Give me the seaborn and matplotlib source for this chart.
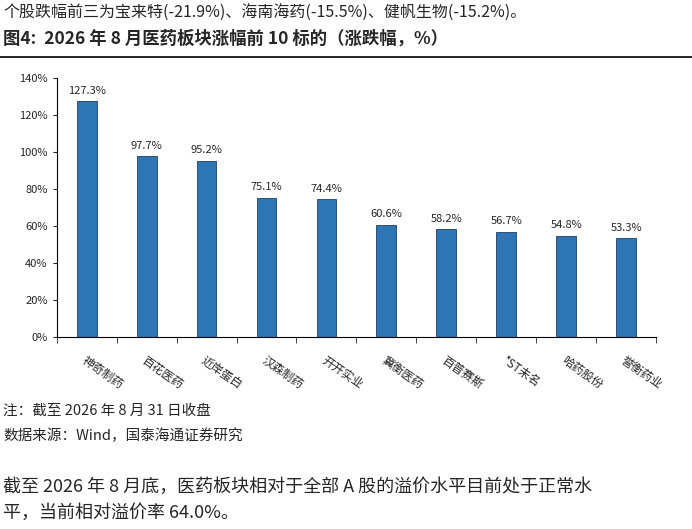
import matplotlib
matplotlib.use("Agg")
import matplotlib.pyplot as plt
import seaborn as sns
import pandas as pd

names = ["神奇制药", "百花医药", "近岸蛋白", "汉森制药", "开开实业",
         "冀衡医药", "百普赛斯", "*ST未名", "哈药股份", "誉衡药业"]
values = [127.3, 97.7, 95.2, 75.1, 74.4, 60.6, 58.2, 56.7, 54.8, 53.3]

sns.set_style("white")
plt.rcParams["font.family"] = ["Noto Sans CJK SC", "DejaVu Sans"]

df = pd.DataFrame({"name": names, "value": values})
fig = plt.figure(figsize=(6.92, 5.29), dpi=100)
ax = fig.add_axes([0.082, 0.363, 0.866, 0.49])
sns.barplot(data=df, x="name", y="value", color="#2E75B6", saturation=1, width=0.33,
            edgecolor="#1F3F66", linewidth=0.6, ax=ax)
for i, v in enumerate(values):
    ax.text(i, v + 3, f"{v:.1f}%", ha="center", va="bottom", fontsize=8)
ax.set_ylim(0, 140)
ax.set_yticks(range(0, 141, 20))
ax.set_yticklabels([f"{t}%" for t in range(0, 141, 20)], fontsize=8)
ax.set_xticks([i + 0.5 for i in range(-1, 10)], minor=True)
ax.tick_params(axis="x", which="minor", length=4, direction="out", bottom=True)
ax.tick_params(axis="x", which="major", length=0, pad=12)
ax.tick_params(axis="y", length=3, direction="out", left=True)
plt.setp(ax.get_xticklabels(), rotation=-35, ha="left", rotation_mode="anchor", fontsize=8.5)
ax.set_xlim(-0.5, 9.5)
ax.set_xlabel("")
ax.set_ylabel("")
for s in ["top", "right"]:
    ax.spines[s].set_visible(False)
for s in ["left", "bottom"]:
    ax.spines[s].set_color("black")
    ax.spines[s].set_linewidth(0.8)

fig.text(0.005, 0.975, "个股跌幅前三为宝来特(-21.9%)、海南海药(-15.5%)、健帆生物(-15.2%)。",
         fontsize=11.5, va="center")
fig.text(0.005, 0.928, "图4:  2026 年 8 月医药板块涨幅前 10 标的（涨跌幅，%）",
         fontsize=12.5, fontweight="bold", va="center")
fig.add_artist(plt.Line2D([0.0, 1.0], [0.893, 0.893], color="black", lw=1.2))
fig.text(0.005, 0.224, "注：截至 2026 年 8 月 31 日收盘", fontsize=10.5, va="center")
fig.text(0.005, 0.177, "数据来源：Wind，国泰海通证券研究", fontsize=10.5, va="center")
fig.text(0.005, 0.079, "截至 2026 年 8 月底，医药板块相对于全部 A 股的溢价水平目前处于正常水",
         fontsize=13, va="center")
fig.text(0.005, 0.030, "平，当前相对溢价率 64.0%。", fontsize=13, va="center")
fig.savefig("out.png", dpi=100)
